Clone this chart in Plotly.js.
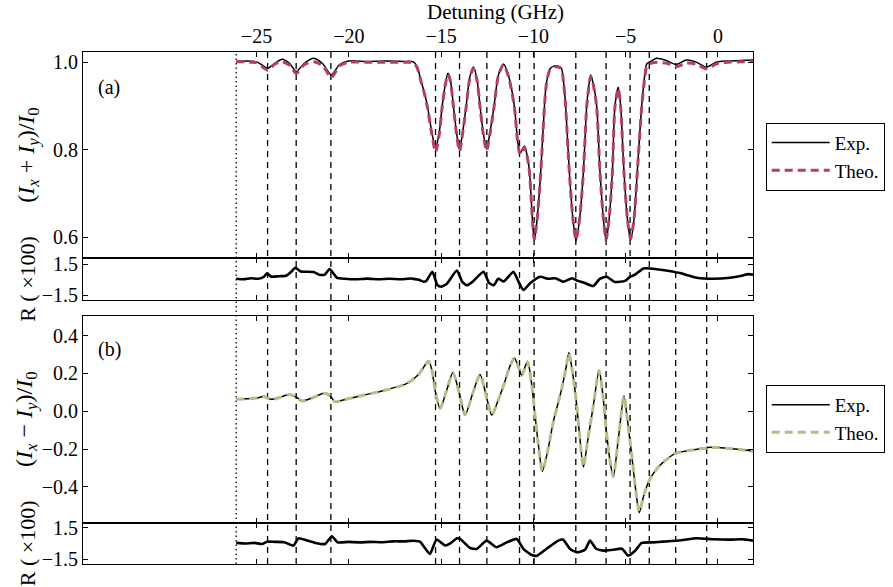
<!DOCTYPE html>
<html>
<head>
<meta charset="utf-8">
<script src="https://cdn.plot.ly/plotly-3.0.1.min.js"></script>
<style>html,body{margin:0;padding:0;background:#fff;}</style>
</head>
<body>
<div id="chart" style="width:893px;height:587px;"></div>
<script>
// ---------------- DATA ----------------
// Panel (a): (Ix+Iy)/I0 vs detuning (GHz)
const xA = [-26.1,-25.5,-25.0,-24.7,-24.4,-24.0,-23.6,-23.2,-22.85,-22.4,-21.9,-21.4,-20.95,-20.5,-20.0,-19,-18,-17,-16.5,-16.3,-16.1,-15.9,-15.74,-15.5,-15.3,-15.1,-14.94,-14.75,-14.63,-14.5,-14.33,-14.15,-14.0,-13.85,-13.64,-13.45,-13.25,-13.05,-12.89,-12.7,-12.53,-12.35,-12.13,-11.9,-11.62,-11.35,-11.03,-10.85,-10.72,-10.6,-10.49,-10.35,-10.21,-10.05,-9.95,-9.8,-9.6,-9.4,-9.3,-9.1,-8.8,-8.5,-8.35,-8.25,-8.05,-7.85,-7.69,-7.5,-7.29,-7.11,-6.95,-6.89,-6.75,-6.57,-6.39,-6.2,-6.06,-5.9,-5.72,-5.58,-5.4,-5.27,-5.09,-4.9,-4.73,-4.55,-4.37,-4.13,-3.95,-3.86,-3.6,-3.32,-2.8,-2.27,-1.7,-1.2,-0.61,-0.1,0.5,1.2,1.9];
const expA = [1.002,1.003,1.001,0.994,0.986,0.998,1.007,0.997,0.979,0.998,1.009,0.996,0.971,0.995,1.003,1.002,1.003,1.002,1.001,0.99,0.96,0.93,0.90,0.84,0.803,0.84,0.90,0.955,0.975,0.96,0.90,0.835,0.80,0.835,0.90,0.965,0.989,0.96,0.90,0.835,0.801,0.84,0.90,0.97,0.996,0.97,0.90,0.82,0.792,0.80,0.809,0.79,0.75,0.64,0.592,0.64,0.75,0.90,0.95,0.985,0.992,0.988,0.95,0.90,0.75,0.64,0.592,0.64,0.75,0.90,0.96,0.971,0.95,0.90,0.75,0.64,0.592,0.64,0.75,0.90,0.943,0.90,0.75,0.64,0.594,0.64,0.75,0.90,0.975,0.996,1.003,1.009,1.004,0.995,1.005,1.001,0.989,1.0,1.003,1.004,1.005];
const theoA = [1.001,1.001,0.999,0.99,0.982,0.996,1.001,0.993,0.975,0.995,1.001,0.992,0.965,0.992,1.0,1.0,1.0,1.0,0.999,0.988,0.958,0.928,0.898,0.835,0.795,0.835,0.898,0.953,0.972,0.958,0.898,0.832,0.797,0.832,0.898,0.962,0.986,0.958,0.898,0.832,0.798,0.836,0.898,0.968,0.994,0.968,0.898,0.818,0.79,0.798,0.806,0.788,0.748,0.64,0.595,0.64,0.748,0.898,0.948,0.983,0.99,0.986,0.948,0.898,0.748,0.64,0.595,0.64,0.748,0.898,0.958,0.968,0.948,0.898,0.748,0.64,0.595,0.64,0.748,0.898,0.94,0.898,0.748,0.64,0.597,0.64,0.748,0.898,0.97,0.99,0.998,1.0,0.998,0.99,0.998,0.996,0.985,0.996,1.0,1.001,1.002];

// Residual (a), R (x100)
const xRA = [-26.1,-25.7,-25.3,-24.9,-24.6,-24.43,-24.2,-23.8,-23.4,-23.1,-22.9,-22.6,-22.27,-21.9,-21.6,-21.3,-21.04,-20.64,-20.2,-19.6,-19.0,-18.4,-17.8,-17.2,-16.6,-16.2,-15.95,-15.8,-15.47,-15.2,-15.0,-14.7,-14.14,-13.85,-13.6,-13.3,-12.7,-12.4,-12.15,-11.9,-11.6,-11.08,-10.8,-10.54,-10.18,-9.64,-9.2,-8.8,-8.37,-7.9,-7.6,-7.29,-6.75,-6.4,-6.03,-5.6,-5.03,-4.75,-4.49,-4.04,-3.68,-3.0,-2.06,-1.15,-0.25,0.65,1.3,1.64,1.9];
const resA = [0.1,0.05,0.15,0.1,0.3,0.63,0.3,0.35,0.4,0.8,1.17,0.8,0.78,0.75,0.5,0.5,1.04,0.2,0.1,0.05,0.12,0.05,0.1,0.05,0.12,0.0,-0.18,-0.1,0.78,-0.5,-0.66,-0.4,0.9,-0.2,-0.53,-0.2,0.78,-0.3,-0.53,0.1,-0.15,0.78,-0.2,-0.99,-0.34,0.3,0.1,0.15,-0.18,0.15,-0.1,-0.25,-0.6,0.1,0.3,-0.2,-0.1,0.3,0.5,1.1,1.1,0.95,0.65,0.2,0.1,0.2,0.4,0.55,0.5];

// Panel (b): (Ix-Iy)/I0
const xB = [-26.1,-25.5,-24.9,-24.6,-24.4,-24.2,-23.7,-23.17,-22.85,-22.54,-22.0,-21.28,-21.0,-20.74,-20.3,-19.2,-18.3,-17.4,-16.9,-16.6,-16.17,-15.9,-15.68,-15.5,-15.32,-15.05,-14.7,-14.36,-14.0,-13.7,-13.3,-12.89,-12.55,-12.25,-11.9,-11.6,-11.3,-11.04,-10.8,-10.63,-10.32,-10.1,-9.91,-9.7,-9.51,-9.2,-8.92,-8.46,-8.25,-8.07,-7.9,-7.69,-7.5,-7.29,-7.05,-6.75,-6.44,-6.25,-6.05,-5.85,-5.67,-5.4,-5.09,-4.9,-4.67,-4.45,-4.26,-4.0,-3.68,-3.14,-2.33,-1.7,-1.2,-0.61,0.0,0.47,1.2,1.91];
const expB = [0.065,0.066,0.072,0.08,0.07,0.063,0.075,0.09,0.075,0.055,0.07,0.097,0.08,0.05,0.06,0.085,0.105,0.129,0.145,0.164,0.2,0.24,0.268,0.22,0.11,0.014,0.11,0.205,0.09,-0.021,0.09,0.194,0.08,-0.021,0.06,0.14,0.23,0.283,0.235,0.19,0.265,0.15,-0.021,-0.2,-0.318,-0.2,-0.056,0.12,0.22,0.311,0.22,0.067,-0.12,-0.295,-0.15,0.03,0.217,0.1,-0.1,-0.26,-0.348,-0.15,0.081,-0.05,-0.233,-0.42,-0.537,-0.44,-0.357,-0.286,-0.224,-0.21,-0.203,-0.192,-0.192,-0.196,-0.203,-0.212];
const theoB = [0.064,0.066,0.071,0.078,0.069,0.062,0.074,0.088,0.074,0.054,0.07,0.095,0.079,0.05,0.06,0.085,0.105,0.128,0.144,0.163,0.2,0.24,0.265,0.22,0.11,0.016,0.11,0.203,0.09,-0.019,0.09,0.192,0.08,-0.019,0.06,0.14,0.23,0.28,0.233,0.19,0.262,0.15,-0.021,-0.2,-0.315,-0.2,-0.056,0.12,0.22,0.308,0.22,0.067,-0.12,-0.293,-0.15,0.03,0.215,0.1,-0.1,-0.26,-0.345,-0.15,0.08,-0.05,-0.233,-0.42,-0.532,-0.44,-0.357,-0.286,-0.224,-0.21,-0.203,-0.194,-0.192,-0.196,-0.203,-0.212];

// Residual (b), R (x100)
const xRB = [-26.1,-25.6,-25.1,-24.7,-24.43,-24.0,-23.5,-23.0,-22.72,-22.3,-21.8,-21.28,-20.92,-20.6,-20.0,-19.4,-18.8,-18.2,-17.6,-17.0,-16.5,-16.13,-15.85,-15.6,-15.25,-14.78,-14.5,-14.14,-13.97,-13.43,-13.07,-12.53,-12.0,-11.44,-10.9,-10.54,-10.09,-9.8,-9.28,-8.65,-8.4,-8.01,-7.65,-7.2,-6.93,-6.6,-6.21,-5.7,-5.2,-4.86,-4.49,-4.13,-3.5,-2.96,-2.0,-1.15,-0.3,0.65,1.3,1.91];
const resB = [0.05,0.0,0.05,-0.05,0.17,0.15,0.12,-0.2,0.49,0.3,0.05,-0.05,0.68,0.1,0.15,0.1,0.15,0.12,0.2,0.2,0.25,0.15,-0.5,-1.0,0.36,-0.2,0.0,0.49,0.43,-0.43,-0.52,0.27,-0.36,0.1,0.43,-0.52,-1.09,-1.16,-0.5,0.27,0.37,-0.52,-0.84,-0.6,0.27,-0.5,-0.68,-0.6,-0.5,-1.16,-0.7,0.05,0.1,0.17,0.3,0.49,0.4,0.36,0.4,0.27];

// Marker lines (GHz)
const dashedLines = [-24.4,-22.85,-20.97,-15.3,-14.0,-12.52,-10.75,-9.96,-7.7,-6.06,-4.76,-3.72,-2.29,-0.61];
const dottedLine = [-26.1];

// Axis ticks
const xTicks = [-25,-20,-15,-10,-5,0];
const yTicksA = [0.6,0.8,1.0];
const yTicksB = [-0.4,-0.2,0.0,0.2,0.4];
const rTicks = [-1.5,1.5];

// ---------------- STYLE ----------------
const FONT = 'Liberation Serif, Times New Roman, serif';
const THEO_A = '#b3405f';
const THEO_B = '#b8bb84';

const traces = [
  {x:xA, y:expA, xaxis:'x', yaxis:'y', mode:'lines', name:'Exp.', legend:'legend',
   line:{color:'black', width:1.5, shape:'spline', smoothing:0.7}},
  {x:xA, y:theoA, xaxis:'x', yaxis:'y', mode:'lines', name:'Theo.', legend:'legend',
   line:{color:THEO_A, width:3, dash:'8px,5px', shape:'spline', smoothing:0.7}},
  {x:xRA, y:resA, xaxis:'x2', yaxis:'y2', mode:'lines', showlegend:false,
   line:{color:'black', width:2.6, shape:'spline', smoothing:0.5}},
  {x:xB, y:expB, xaxis:'x3', yaxis:'y3', mode:'lines', name:'Exp.', legend:'legend2',
   line:{color:'black', width:1.5, shape:'spline', smoothing:0.7}},
  {x:xB, y:theoB, xaxis:'x3', yaxis:'y3', mode:'lines', name:'Theo.', legend:'legend2',
   line:{color:THEO_B, width:3, dash:'8px,5px', shape:'spline', smoothing:0.7}},
  {x:xRB, y:resB, xaxis:'x4', yaxis:'y4', mode:'lines', showlegend:false,
   line:{color:'black', width:2.6, shape:'spline', smoothing:0.5}}
];

const common = {showline:true, linecolor:'black', linewidth:1, mirror:'ticks',
  ticks:'inside', ticklen:5, tickcolor:'black', showgrid:false, zeroline:false,
  tickfont:{family:FONT, size:20, color:'black'}};
const xRange = [-34.4, 1.9];

const shapes = [];
dashedLines.forEach(v => shapes.push({type:'line', xref:'x', yref:'paper', x0:v, x1:v, y0:0, y1:1,
  layer:'below', line:{color:'black', width:1.3, dash:'6px,5px'}}));
dottedLine.forEach(v => shapes.push({type:'line', xref:'x', yref:'paper', x0:v, x1:v, y0:0, y1:1,
  layer:'below', line:{color:'black', width:1.3, dash:'1.5px,3px'}}));

const titleA = '(<i>I</i><sub><i>x</i></sub> + <i>I</i><sub><i>y</i></sub>)/<i>I</i><sub>0</sub>';
const titleB = '(<i>I</i><sub><i>x</i></sub> − <i>I</i><sub><i>y</i></sub>)/<i>I</i><sub>0</sub>';
const tfont = {family:FONT, size:24, color:'black'};
const rfont = {family:FONT, size:22, color:'black'};

const layout = {
  width:893, height:587,
  margin:{l:83, r:140, t:52, b:23, autoexpand:false},
  paper_bgcolor:'white', plot_bgcolor:'white',
  font:{family:FONT, size:19, color:'black'},
  showlegend:true,
  xaxis: Object.assign({}, common, {domain:[0,1], anchor:'y', side:'top', range:xRange,
    tickvals:xTicks, showticklabels:true}),
  xaxis2: Object.assign({}, common, {domain:[0,1], anchor:'y2', matches:'x', range:xRange,
    tickvals:xTicks, showticklabels:false}),
  xaxis3: Object.assign({}, common, {domain:[0,1], anchor:'y3', matches:'x', range:xRange,
    tickvals:xTicks, showticklabels:false}),
  xaxis4: Object.assign({}, common, {domain:[0,1], anchor:'y4', matches:'x', range:xRange,
    tickvals:xTicks, showticklabels:false}),
  yaxis: Object.assign({}, common, {domain:[0.5977,1], anchor:'x', range:[0.553,1.0235],
    tickvals:yTicksA, tickformat:'.1f', title:{text:titleA, standoff:11, font:tfont}}),
  yaxis2: Object.assign({}, common, {domain:[0.5156,0.5977], anchor:'x2', range:[-1.95,2.11],
    tickvals:rTicks, tickformat:'.1f', title:{text:'R ( ×100)', standoff:0, font:rfont}}),
  yaxis3: Object.assign({}, common, {domain:[0.0807,0.485], anchor:'x3', range:[-0.59,0.506],
    tickvals:yTicksB, tickformat:'.1f', title:{text:titleB, standoff:2, font:tfont}}),
  yaxis4: Object.assign({}, common, {domain:[0,0.0807], anchor:'x4', range:[-1.95,1.97],
    tickvals:rTicks, tickformat:'.1f', title:{text:'R ( ×100)', standoff:0, font:rfont}}),
  legend:{x:1.019, y:0.862, xanchor:'left', yanchor:'top', bordercolor:'black', borderwidth:1,
    bgcolor:'white', itemwidth:58, font:{family:FONT, size:19}},
  legend2:{x:1.019, y:0.35, xanchor:'left', yanchor:'top', bordercolor:'black', borderwidth:1,
    bgcolor:'white', itemwidth:58, font:{family:FONT, size:19}},
  shapes:shapes,
  annotations:[
    {text:'Detuning (GHz)', xref:'paper', yref:'paper', x:0.615, y:1.078, xanchor:'center', yanchor:'middle',
     showarrow:false, font:{family:FONT, size:21}},
    {text:'(a)', xref:'paper', yref:'paper', x:0.019, y:0.93, xanchor:'left', yanchor:'middle',
     showarrow:false, font:{family:FONT, size:20}},
    {text:'(b)', xref:'paper', yref:'paper', x:0.019, y:0.418, xanchor:'left', yanchor:'middle',
     showarrow:false, font:{family:FONT, size:20}}
  ]
};

Plotly.newPlot('chart', traces, layout, {displayModeBar:false, staticPlot:true});
</script>
</body>
</html>
